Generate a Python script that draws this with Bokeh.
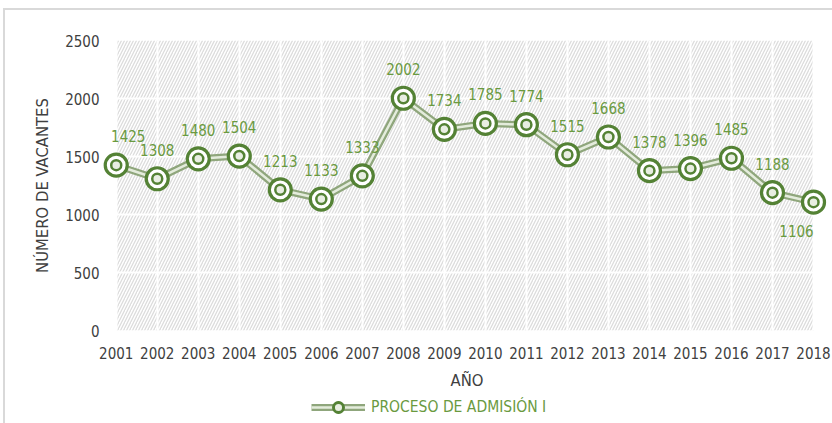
from bokeh.plotting import figure
from bokeh.layouts import column
from bokeh.models import (ColumnDataSource, Range1d, FixedTicker, BoxAnnotation,
                          Legend, LegendItem)
from bokeh.core.properties import value
from bokeh.embed import file_html
from bokeh.resources import INLINE

years = [2001, 2002, 2003, 2004, 2005, 2006, 2007, 2008, 2009, 2010,
         2011, 2012, 2013, 2014, 2015, 2016, 2017, 2018]
vacantes = [1425, 1308, 1480, 1504, 1213, 1133, 1333, 2002, 1734, 1785,
            1774, 1515, 1668, 1378, 1396, 1485, 1188, 1106]
y_ticks = [0, 500, 1000, 1500, 2000, 2500]
series_name = "PROCESO DE ADMISIÓN I"
x_title = "AÑO"
y_title = "NÚMERO DE VACANTES"

FONT = "'DejaVu Sans Condensed', 'DejaVu Sans', sans-serif"
GREEN = "#548235"
LABEL_GREEN = "#6a9a3f"
TEXT = "#404040"

n = len(years)
label_dy = [-29] * n
label_dy[-1] = 29
label_dx = [0] * n
label_dx[0] = 12
label_dx[-1] = -17
src = ColumnDataSource(dict(x=years, y=vacantes, t=[str(v) for v in vacantes],
                            dy=label_dy, dx=label_dx))

X_RANGE = (2000.641, 2018.463)
FIG_W = 827


def draw_series(fig):
    a = fig.line("x", "y", source=src, line_color="#8fa67c", line_width=7)
    b = fig.line("x", "y", source=src, line_color="#e4ecdc", line_width=2.5)
    c = fig.scatter("x", "y", source=src, marker="circle", size=22, fill_color="white",
                    line_color=GREEN, line_width=3.2)
    d = fig.scatter("x", "y", source=src, marker="circle", size=10, fill_color="#e8eee2",
                    line_color=GREEN, line_width=2.5)
    return [a, b, c, d]


p = figure(width=FIG_W, height=382, output_backend="svg", toolbar_location=None,
           x_range=Range1d(*X_RANGE), y_range=Range1d(y_ticks[0], y_ticks[-1]),
           min_border_left=96, min_border_right=0, min_border_top=30, min_border_bottom=59)
p.outline_line_color = None
p.background_fill_color = "white"
p.border_fill_color = "white"

bg = BoxAnnotation(left=years[0], right=years[-1], bottom=y_ticks[0], top=y_ticks[-1],
                   fill_color="white", fill_alpha=1.0, line_color=None,
                   hatch_pattern="/", hatch_color="#dcdcdc", hatch_scale=6,
                   hatch_weight=1.3, level="image")
p.add_layout(bg)

for ax in (p.xaxis[0], p.yaxis[0]):
    ax.axis_line_color = None
    ax.major_tick_line_color = None
    ax.minor_tick_line_color = None
    ax.major_tick_out = 0
    ax.major_tick_in = 0
    ax.minor_tick_out = 0
    ax.major_label_text_font = FONT
    ax.major_label_text_font_size = "15px"
    ax.major_label_text_color = TEXT
    ax.axis_label_text_font = FONT
    ax.axis_label_text_font_size = "16.5px"
    ax.axis_label_text_font_style = "normal"
    ax.axis_label_text_color = TEXT

p.xaxis.ticker = FixedTicker(ticks=years)
p.xaxis.major_label_standoff = 16
p.xaxis.axis_label = x_title
p.xaxis.axis_label_standoff = 9
p.yaxis.ticker = FixedTicker(ticks=y_ticks)
p.yaxis.major_label_standoff = 2
p.yaxis.axis_label = y_title
p.yaxis.axis_label_standoff = 10

p.xgrid.ticker = FixedTicker(ticks=years)
p.ygrid.ticker = FixedTicker(ticks=y_ticks)
for g in (p.xgrid[0], p.ygrid[0]):
    g.grid_line_color = "white"
    g.grid_line_width = 2

draw_series(p)
p.text("x", "y", text="t", source=src, x_offset="dx", y_offset="dy",
       text_align="center", text_baseline="middle", text_color=LABEL_GREEN,
       text_font=value(FONT), text_font_size="15px")

# legend strip: same series drawn out of view, only its legend is visible
lg = figure(width=FIG_W, height=31, output_backend="svg", toolbar_location=None,
            x_range=Range1d(*X_RANGE), y_range=Range1d(-2, -1),
            min_border_left=0, min_border_right=0, min_border_top=0, min_border_bottom=0)
lg.axis.visible = False
lg.grid.visible = False
lg.outline_line_color = None
lg_renderers = draw_series(lg)
legend = Legend(items=[LegendItem(label=series_name, renderers=lg_renderers)],
                orientation="horizontal", location=(210, 4),
                label_text_font=FONT, label_text_font_size="15.5px",
                label_text_color=LABEL_GREEN, glyph_width=54, glyph_height=24,
                border_line_color=None, background_fill_alpha=0,
                padding=2, margin=0, label_standoff=6)
lg.add_layout(legend)

layout = column(p, lg, spacing=0, margin=(8, 0, 0, 3),
                styles={"border-top": "2px solid #d9d9d9",
                        "border-left": "2px solid #d9d9d9"})
open("out.html", "w").write(file_html(layout, INLINE))
